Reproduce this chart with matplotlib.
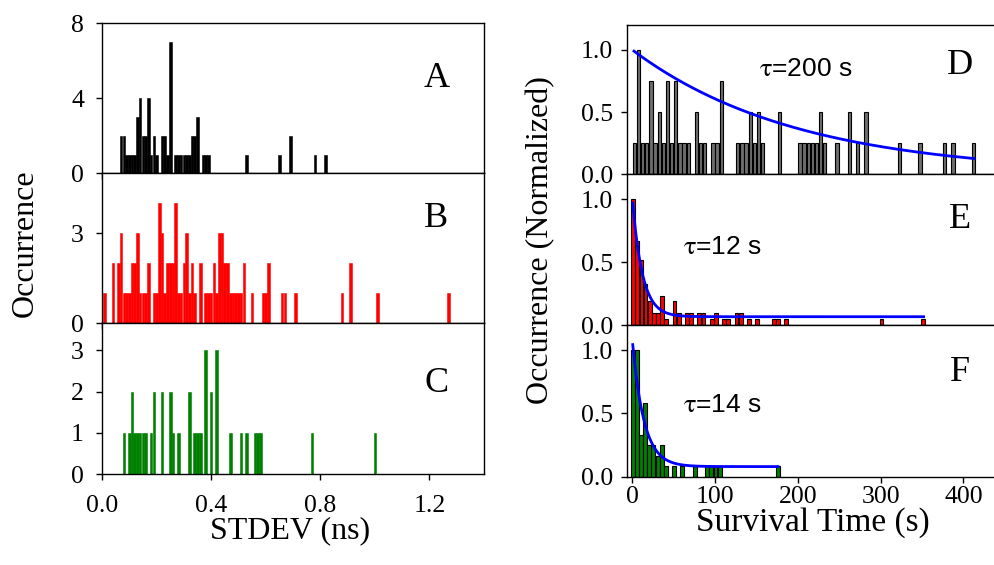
import numpy as np
import matplotlib
matplotlib.use("Agg")
import matplotlib.pyplot as plt

plt.rcParams['font.family'] = 'Liberation Serif'
plt.rcParams['mathtext.fontset'] = 'stix'

# ---- left column: STDEV histograms (bin centres in ns, counts) ----
a_x = [0.07, 0.08, 0.09, 0.10, 0.11, 0.12, 0.13, 0.14, 0.15, 0.16, 0.17, 0.18, 0.19, 0.20,
       0.22, 0.23, 0.24, 0.25, 0.27, 0.28, 0.29, 0.30, 0.31, 0.32, 0.33, 0.34, 0.35,
       0.37, 0.38, 0.39, 0.53, 0.65, 0.69, 0.78, 0.82]
a_n = [2, 2, 1, 1, 1, 1, 3, 4, 2, 2, 4, 1, 2, 1,
       2, 2, 1, 7, 1, 1, 1, 1, 1, 1, 2, 2, 3,
       1, 1, 1, 1, 1, 2, 1, 1]

b_x = [0.01, 0.04, 0.06, 0.07, 0.08, 0.09, 0.10, 0.11, 0.12, 0.13, 0.14, 0.15, 0.16, 0.17,
       0.19, 0.20, 0.21, 0.22, 0.23, 0.24, 0.25, 0.26, 0.27, 0.28, 0.29, 0.30, 0.31, 0.32,
       0.33, 0.34, 0.36, 0.38, 0.39, 0.40, 0.41, 0.42, 0.43, 0.44, 0.45, 0.46, 0.47, 0.48,
       0.49, 0.50, 0.51, 0.52, 0.55, 0.59, 0.60, 0.61, 0.66, 0.67, 0.71, 0.88, 0.91, 1.01, 1.27]
b_n = [1, 2, 2, 3, 1, 1, 1, 2, 2, 3, 1, 1, 1, 2,
       1, 1, 4, 3, 1, 2, 2, 2, 4, 1, 1, 2, 3, 1,
       2, 1, 2, 1, 1, 1, 2, 1, 3, 3, 2, 2, 1, 1,
       1, 1, 1, 2, 1, 1, 1, 2, 1, 1, 1, 1, 2, 1, 1]

c_x = [0.08, 0.10, 0.11, 0.12, 0.13, 0.14, 0.15, 0.16, 0.18, 0.19, 0.22, 0.25, 0.26, 0.28,
       0.32, 0.34, 0.35, 0.36, 0.38, 0.40, 0.42, 0.47, 0.51, 0.53, 0.56, 0.57, 0.58, 0.77, 1.00]
c_n = [1, 1, 2, 1, 1, 1, 1, 1, 1, 2, 2, 2, 1, 1,
       2, 1, 1, 1, 3, 2, 3, 1, 1, 1, 1, 1, 1, 1, 1]

# ---- right column: survival time histograms (bin centres in s, normalized occurrence) ----
d_x = [2.5, 7.5, 12.5, 17.5, 22.5, 27.5, 32.5, 37.5, 42.5, 47.5, 52.5, 57.5, 62.5, 67.5,
       77.5, 82.5, 87.5, 97.5, 102.5, 107.5, 127.5, 132.5, 137.5, 142.5, 147.5, 152.5, 157.5,
       177.5, 202.5, 207.5, 212.5, 217.5, 222.5, 227.5, 232.5, 247.5, 262.5, 272.5, 282.5,
       322.5, 347.5, 377.5, 387.5, 412.5]
d_y = [0.25, 1.0, 0.25, 0.25, 0.75, 0.25, 0.5, 0.25, 0.75, 0.25, 0.75, 0.25, 0.25, 0.25,
       0.5, 0.25, 0.25, 0.25, 0.25, 0.75, 0.25, 0.25, 0.25, 0.5, 0.25, 0.5, 0.25,
       0.5, 0.25, 0.25, 0.25, 0.25, 0.25, 0.5, 0.25, 0.25, 0.5, 0.25, 0.5,
       0.25, 0.25, 0.25, 0.25, 0.25]

e_x = [1, 6, 11, 16, 21, 26, 31, 36, 41, 51, 56, 66, 71, 81, 86, 96, 101, 111, 116,
       126, 131, 141, 151, 171, 176, 186, 301, 351]
e_y = [1.0, 0.67, 0.52, 0.33, 0.19, 0.095, 0.095, 0.23, 0.045, 0.19, 0.095, 0.095, 0.095,
       0.095, 0.095, 0.045, 0.095, 0.045, 0.045, 0.095, 0.095, 0.045, 0.045, 0.045, 0.045,
       0.045, 0.045, 0.045]

f_x = [0.5, 5.5, 10.5, 15.5, 20.5, 25.5, 30.5, 35.5, 40.5, 50.5, 60.5, 75.5,
       90.5, 95.5, 100.5, 105.5, 175.5]
f_y = [1.0, 1.0, 0.333, 0.583, 0.25, 0.25, 0.167, 0.25, 0.083, 0.083, 0.083, 0.083,
       0.083, 0.083, 0.083, 0.083, 0.083]

# exponential fits: (amplitude, tau, offset, x start, x end)
d_fit = (1.0, 200.0, 0.0, 2.0, 413.0)
e_fit = (0.945, 12.0, 0.066, 0.5, 352.0)
f_fit = (1.0, 14.0, 0.08, 0.5, 176.0)

fig = plt.figure(figsize=(9.94, 5.65), dpi=100)
W, H = 994.0, 565.0


def make_ax(left, right, top, bottom):
    return fig.add_axes([left / W, 1 - bottom / H, (right - left) / W, (bottom - top) / H])


def style(ax, xlabels, ypad, xpad):
    ax.tick_params(direction='out', length=4, width=1, labelsize=18.5, top=False, right=False,
                   pad=ypad)
    ax.tick_params(axis='x', pad=xpad, labelbottom=xlabels)
    for s in ax.spines.values():
        s.set_linewidth(1.0)


# left column
lt = [23.3, 173.3, 323.3]
lb = [173.3, 323.3, 474.3]
left_data = [(a_x, a_n, 'black', 8, [0, 4, 8], 'A', 0.63),
             (b_x, b_n, 'red', 5, [0, 3], 'B', 0.70),
             (c_x, c_n, 'green', 3.65, [0, 1, 2, 3], 'C', 0.60)]
for i, (xs, ns, col, ymax, yt, letter, ly) in enumerate(left_data):
    ax = make_ax(102, 484, lt[i], lb[i])
    ax.bar(xs, ns, width=0.0095, color=col, edgecolor=col, linewidth=0.4)
    ax.set_xlim(0, 1.4)
    ax.set_ylim(0, ymax)
    ax.set_yticks(yt)
    ax.set_xticks([0.0, 0.4, 0.8, 1.2])
    ax.set_xticklabels(['0.0', '0.4', '0.8', '1.2'])
    style(ax, i == 2, 9, 11)
    ax.text(0.875, ly, letter, transform=ax.transAxes, fontsize=26, ha='center', va='center')

# right column
rt = [25.0, 174.3, 325.0]
rb = [174.3, 325.0, 476.7]
right_data = [(d_x, d_y, '#6e6e6e', 4.0, d_fit, 'D', 0.73, r'$\mathrm{\tau}$=200 s', 210, 0.85),
              (e_x, e_y, 'red', 4.5, e_fit, 'E', 0.70, r'$\mathrm{\tau}$=12 s', 109, 0.62),
              (f_x, f_y, 'green', 4.8, f_fit, 'F', 0.685, r'$\mathrm{\tau}$=14 s', 109, 0.57)]
for i, (xs, ys, col, bw, fit, letter, ly, tau_txt, tx, ty) in enumerate(right_data):
    ax = make_ax(626.7, 996, rt[i], rb[i])
    ax.bar(xs, ys, width=bw, color=col, edgecolor='black', linewidth=0.8)
    amp, tau, off, x0, x1 = fit
    xx = np.linspace(x0, x1, 400)
    ax.plot(xx, amp * np.exp(-xx / tau) + off, color='#0000ff', lw=2)
    ax.set_xlim(-6.8, 439.5)
    ax.set_ylim(0, 1.2)
    ax.set_yticks([0.0, 0.5, 1.0])
    ax.set_yticklabels(['0.0', '0.5', '1.0'])
    ax.set_xticks([0, 100, 200, 300, 400])
    style(ax, i == 2, 6, 3)
    ax.text(0.903, ly, letter, transform=ax.transAxes, fontsize=26, ha='center', va='center')
    ax.text(tx, ty, tau_txt, fontsize=19, family='Liberation Sans', ha='center', va='center')

fig.text(25 / W, 1 - 243 / H, 'Occurrence', rotation=90, fontsize=23, ha='center', va='center')
fig.text(541 / W, 1 - 240 / H, 'Occurrence (Normalized)', rotation=90, fontsize=23,
         ha='center', va='center')
fig.text(290 / W, 1 - 531 / H, 'STDEV (ns)', fontsize=23, ha='center', va='center')
fig.text(813 / W, 1 - 523 / H, 'Survival Time (s)', fontsize=24, ha='center', va='center')

fig.savefig('out.png', dpi=100)
